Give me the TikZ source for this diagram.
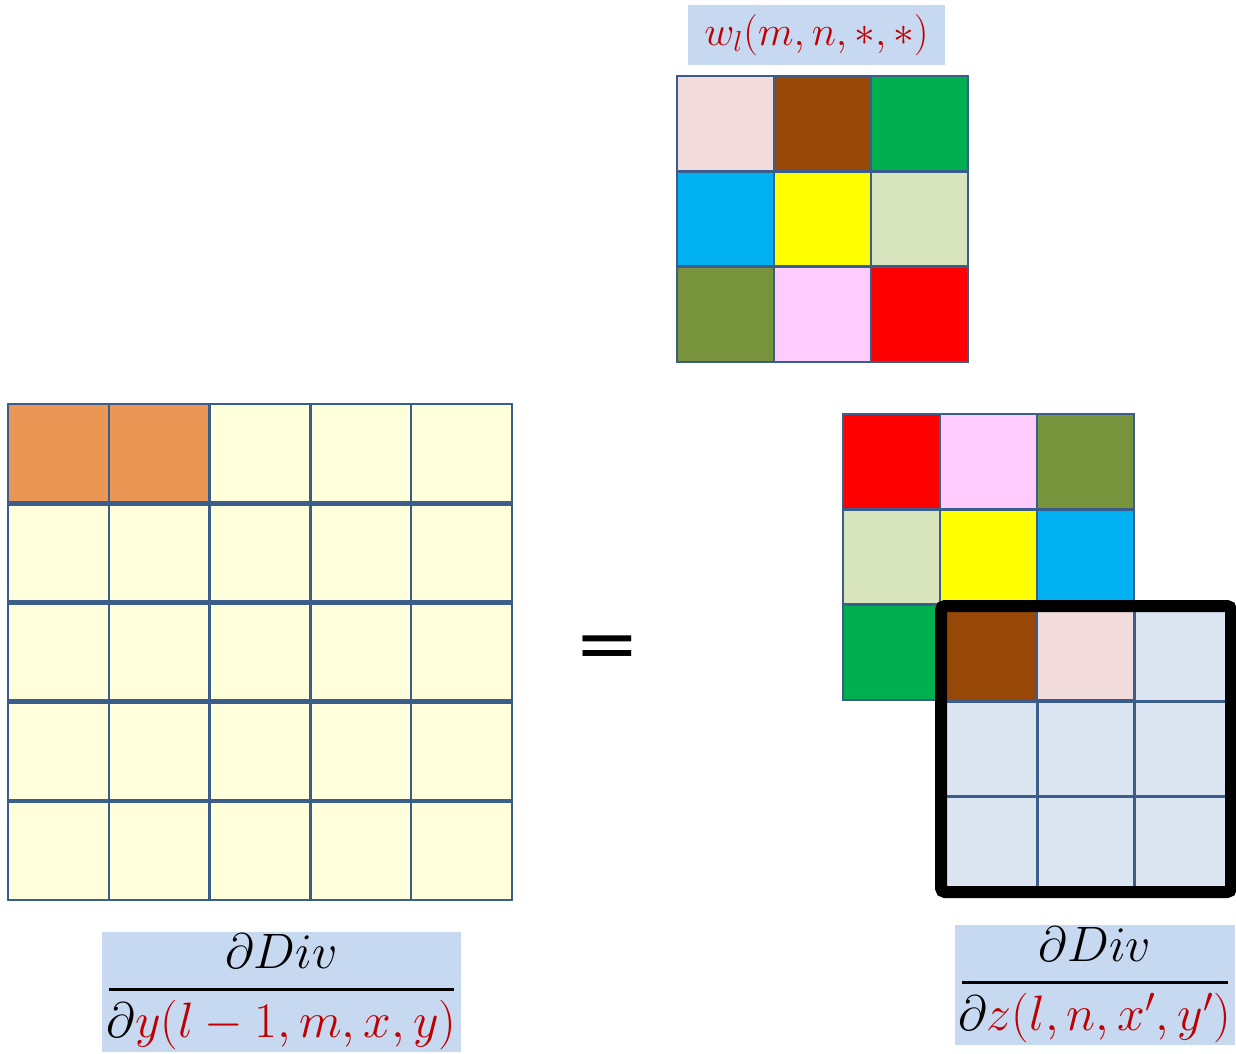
\documentclass[tikz,border=0pt]{standalone}
\usepackage{amsmath}
\usepackage{graphicx}
\usepackage{fontspec}
\newfontfamily\carlito{Carlito}
\definecolor{gridline}{HTML}{3A5D8C}
\definecolor{lblbg}{HTML}{C6D9F1}
\definecolor{redtxt}{HTML}{C00000}
\definecolor{kpink}{HTML}{F2DCDB}
\definecolor{kbrown}{HTML}{974806}
\definecolor{kgreen}{HTML}{00B050}
\definecolor{kcyan}{HTML}{00B0F0}
\definecolor{kyellow}{HTML}{FFFF00}
\definecolor{klgreen}{HTML}{D7E4BD}
\definecolor{kolive}{HTML}{77933C}
\definecolor{kmagenta}{HTML}{FFCCFF}
\definecolor{kred}{HTML}{FF0000}
\definecolor{lyellow}{HTML}{FFFFDC}
\definecolor{lorange}{HTML}{EA9756}
\definecolor{lblue}{HTML}{DBE5F1}
\tikzset{
  cell/.style={draw=gridline, line width=1.25pt},
  lbl/.style={fill=lblbg, inner sep=0pt, font=\fontsize{24.5}{28}\selectfont}
}
\begin{document}
\begin{tikzpicture}[x=0.5pt,y=-0.5pt]
\useasboundingbox (0,0) rectangle (1236,1054);
% top kernel
\foreach \col/\r/\c in {kpink/0/0,kbrown/0/1,kgreen/0/2,kcyan/1/0,kyellow/1/1,klgreen/1/2,kolive/2/0,kmagenta/2/1,kred/2/2}
  \filldraw[cell, fill=\col] ({677+97*\c},{76+95.33*\r}) rectangle ++(97,95.33);
% left grid
\foreach \r in {0,...,4}
  \foreach \c in {0,...,4}
    \filldraw[cell, fill=lyellow] ({8+100.8*\c},{404+99.2*\r}) rectangle ++(100.8,99.2);
\foreach \c in {0,1}
  \filldraw[cell, fill=lorange] ({8+100.8*\c},404) rectangle ++(100.8,99.2);
\foreach \r in {1,...,4}
  \draw[gridline, line width=2.3pt] (8,{404+99.2*\r}) -- (512,{404+99.2*\r});
% blue output grid
\foreach \r in {0,...,2}
  \foreach \c in {0,...,2}
    \filldraw[cell, fill=lblue] ({941+96.7*\c},{606+95.3*\r}) rectangle ++(96.7,95.3);
% flipped kernel
\foreach \col/\r/\c in {kred/0/0,kmagenta/0/1,kolive/0/2,klgreen/1/0,kyellow/1/1,kcyan/1/2,kgreen/2/0,kbrown/2/1,kpink/2/2}
  \filldraw[cell, fill=\col] ({843+97*\c},{414+95.33*\r}) rectangle ++(97,95.33);
% black frame
\draw[line width=6pt, rounded corners=2pt] (941,606) rectangle (1231,892);
% equals
\node[font=\fontsize{60}{60}\selectfont\carlito] (eq) at (607,656) {\scalebox{1}[0.77]{=}};
% labels
\node[lbl, minimum width=128.5pt, minimum height=30pt, text=redtxt, font=\fontsize{22.5}{26}\selectfont] (wl) at (816.5,35) {$w_l(m,n,*,*)$};
\node[lbl, minimum width=179.5pt, minimum height=60pt] (dy) at (281.5,992)
  {\raisebox{-1.5pt}{$\genfrac{}{}{1.5pt}{0}{\partial Div}{\makebox[172.5pt]{$\partial\textcolor{redtxt}{y(l-1,m,x,y)}$}}$}};
\node[lbl, minimum width=140pt, minimum height=60pt] (dz) at (1095,985)
  {\raisebox{-1.5pt}{$\genfrac{}{}{1.5pt}{0}{\partial Div}{\makebox[133pt]{$\partial\textcolor{redtxt}{z(l,n,x',y')}$}}$}};
\end{tikzpicture}
\end{document}
